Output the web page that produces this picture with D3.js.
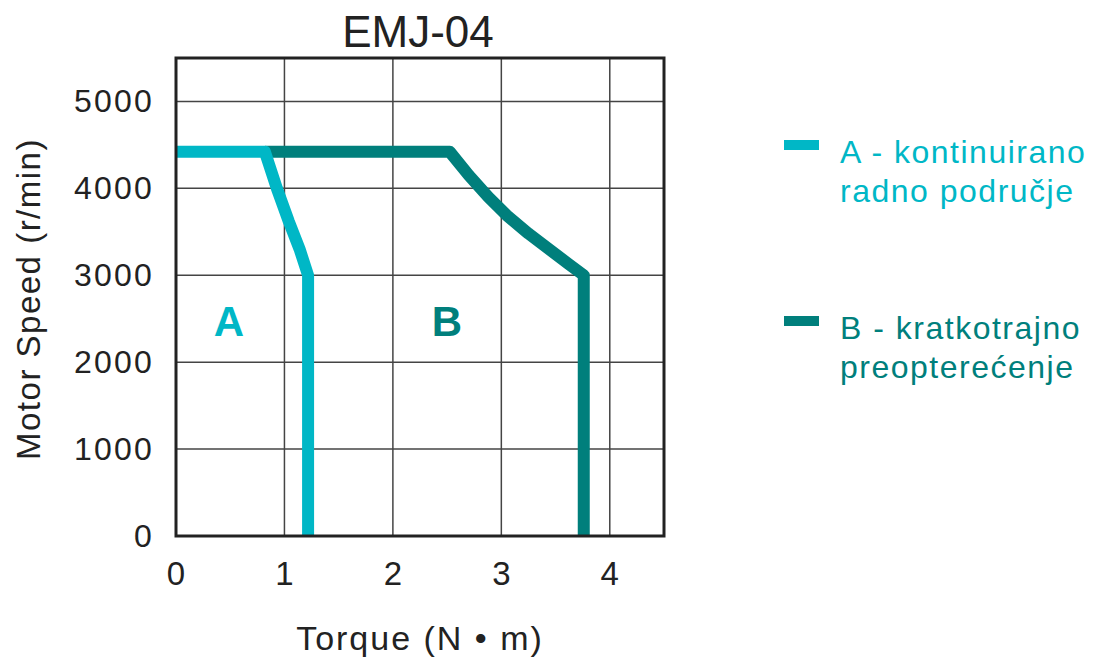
<!DOCTYPE html>
<html>
<head>
<meta charset="utf-8">
<script src="https://cdn.jsdelivr.net/npm/d3@7"></script>
<style>
  body { margin: 0; background: #fff; }
  text { font-family: "Liberation Sans", Arial, sans-serif; }
</style>
</head>
<body>
<svg id="mySvg"></svg>
<script>
const width = 1096;
const height = 657;

// data
const torqueTicks = [0, 1, 2, 3, 4];
const speedTicks = [0, 1000, 2000, 3000, 4000, 5000];
// A - continuous operating range
const curveA = [
  [0, 4420], [0.82, 4420], [0.93, 4000], [1.04, 3620], [1.14, 3300], [1.218, 3000], [1.218, 0]
];
// B - short-term overload
const curveB = [
  [0.82, 4420], [2.525, 4420], [2.70, 4150], [2.88, 3900], [3.05, 3690], [3.25, 3480],
  [3.45, 3290], [3.62, 3130], [3.76, 3000], [3.76, 0]
];
const legendItems = [
  { lines: ["A - kontinuirano", "radno područje"], color: "#00b7c6" },
  { lines: ["B - kratkotrajno", "preopterećenje"], color: "#007f7c" }
];

const margin = { left: 176, right: 1096 - 664, top: 58, bottom: 657 - 536 };

const svg = d3.select("#mySvg").attr("width", width).attr("height", height);

const x = d3.scaleLinear().domain([0, 4.5]).range([margin.left, width - margin.right]);
const y = d3.scaleLinear().domain([0, 5500]).range([height - margin.bottom, margin.top]);

// grid
svg.append("g")
  .selectAll("line")
  .data(torqueTicks.filter(d => d > 0))
  .enter()
  .append("line")
  .attr("x1", d => x(d)).attr("x2", d => x(d))
  .attr("y1", y(0)).attr("y2", y(5500))
  .attr("stroke", "#444").attr("stroke-width", 1.5);

svg.append("g")
  .selectAll("line")
  .data(speedTicks.filter(d => d > 0))
  .enter()
  .append("line")
  .attr("x1", x(0)).attr("x2", x(4.5))
  .attr("y1", d => y(d)).attr("y2", d => y(d))
  .attr("stroke", "#444").attr("stroke-width", 1.5);

// axes (labels only)
const xAxis = svg.append("g")
  .attr("transform", `translate(0, ${y(0)})`)
  .call(d3.axisBottom(x).tickValues(torqueTicks).tickSize(0).tickPadding(26).tickFormat(d3.format("d")));
xAxis.select(".domain").remove();
xAxis.selectAll("text")
  .attr("font-size", 33).attr("fill", "#222").attr("letter-spacing", 1)
  .attr("font-family", "Liberation Sans, Arial, sans-serif");

const yAxis = svg.append("g")
  .attr("transform", `translate(${x(0)}, 0)`)
  .call(d3.axisLeft(y).tickValues(speedTicks).tickSize(0).tickPadding(22).tickFormat(d3.format("d")));
yAxis.select(".domain").remove();
yAxis.selectAll("text")
  .attr("font-size", 32).attr("fill", "#222").attr("letter-spacing", 2.2)
  .attr("font-family", "Liberation Sans, Arial, sans-serif");

// curves
const line = d3.line()
  .x(d => x(d[0]))
  .y(d => y(d[1]))
  .curve(d3.curveLinear);

svg.append("path")
  .datum(curveB)
  .attr("d", line)
  .attr("fill", "none")
  .attr("stroke", legendItems[1].color)
  .attr("stroke-width", 12)
  .attr("stroke-linejoin", "round");

svg.append("path")
  .datum(curveA)
  .attr("d", line)
  .attr("fill", "none")
  .attr("stroke", legendItems[0].color)
  .attr("stroke-width", 12)
  .attr("stroke-linejoin", "round");

// frame
svg.append("rect")
  .attr("x", x(0)).attr("y", y(5500))
  .attr("width", x(4.5) - x(0)).attr("height", y(0) - y(5500))
  .attr("fill", "none").attr("stroke", "#222").attr("stroke-width", 3);

// region labels
svg.append("text")
  .attr("x", 229).attr("y", 336)
  .attr("text-anchor", "middle")
  .attr("font-size", 42).attr("font-weight", "bold")
  .attr("fill", legendItems[0].color)
  .text("A");

svg.append("text")
  .attr("x", 447).attr("y", 336)
  .attr("text-anchor", "middle")
  .attr("font-size", 42).attr("font-weight", "bold")
  .attr("fill", legendItems[1].color)
  .text("B");

// titles
svg.append("text")
  .attr("x", 418).attr("y", 47)
  .attr("text-anchor", "middle")
  .attr("font-size", 44).attr("fill", "#222")
  .text("EMJ-04");

svg.append("text")
  .attr("x", 420).attr("y", 650)
  .attr("text-anchor", "middle")
  .attr("font-size", 34).attr("fill", "#222").attr("letter-spacing", 2)
  .text("Torque (N • m)");

svg.append("text")
  .attr("transform", "translate(40, 299) rotate(-90)")
  .attr("text-anchor", "middle")
  .attr("font-size", 33).attr("fill", "#222").attr("letter-spacing", 1.5)
  .text("Motor  Speed (r/min)");

// legend
const legendY = [145, 321];
const legend = svg.append("g")
  .selectAll("g")
  .data(legendItems)
  .enter()
  .append("g")
  .attr("transform", (d, i) => `translate(784, ${legendY[i]})`);

legend.append("line")
  .attr("x1", 0).attr("x2", 35)
  .attr("y1", 0).attr("y2", 0)
  .attr("stroke", d => d.color)
  .attr("stroke-width", 10);

legend.each(function (d) {
  const g = d3.select(this);
  d.lines.forEach((t, j) => {
    g.append("text")
      .attr("x", 56).attr("y", 18 + j * 39)
      .attr("font-size", 32).attr("letter-spacing", 1.5)
      .attr("fill", d.color)
      .text(t);
  });
});
</script>
</body>
</html>
